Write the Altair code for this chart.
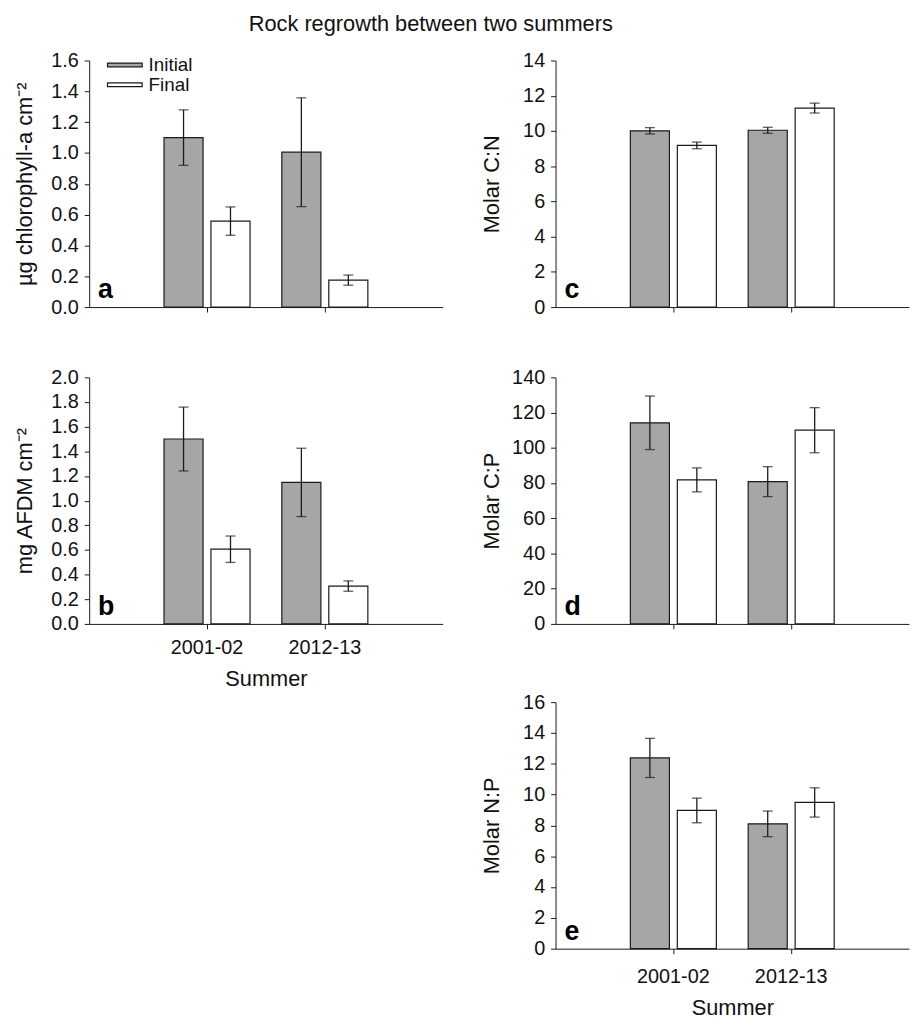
import altair as alt
import pandas as pd

summers = ["2001-02", "2012-13"]
treatments = ["Initial", "Final"]
panel_letters = ["a", "b", "c", "d", "e"]

# panel a: chlorophyll-a
chl_initial = [1.10, 1.005]
chl_initial_se = [0.18, 0.353]
chl_final = [0.558, 0.175]
chl_final_se = [0.092, 0.033]
# panel b: AFDM
afdm_initial = [1.50, 1.148]
afdm_initial_se = [0.259, 0.277]
afdm_final = [0.606, 0.307]
afdm_final_se = [0.107, 0.042]
# panel c: C:N
cn_initial = [10.01, 10.04]
cn_initial_se = [0.18, 0.17]
cn_final = [9.18, 11.30]
cn_final_se = [0.19, 0.28]
# panel d: C:P
cp_initial = [114.2, 80.8]
cp_initial_se = [15.2, 8.5]
cp_final = [81.8, 110.0]
cp_final_se = [6.8, 12.8]
# panel e: N:P
np_initial = [12.38, 8.10]
np_initial_se = [1.27, 0.83]
np_final = [8.97, 9.49]
np_final_se = [0.80, 0.95]

FONT = "Liberation Sans"
W, H = 357, 249
INK = "#1a1a1a"


def make_df(init, init_se, fin, fin_se):
    rows = []
    for i, s in enumerate(summers):
        rows.append({"summer": s, "treatment": "Initial", "mean": init[i], "se": init_se[i]})
        rows.append({"summer": s, "treatment": "Final", "mean": fin[i], "se": fin_se[i]})
    return pd.DataFrame(rows)


def panel(df, ytitle, ymax, ystep, fmt, letter, show_x, legend=False,
          label_pad=8.5, xtitle_y=62):
    ticks = [round(i * ystep, 6) for i in range(int(round(ymax / ystep)) + 1)]
    xaxis = alt.Axis(
        labels=show_x, title="Summer" if show_x else None,
        labelPadding=label_pad, labelAngle=0,
        titleY=xtitle_y, titleBaseline="alphabetic",
        domainColor=INK, tickColor=INK, tickSize=5, grid=False,
    )
    x = alt.X("summer:N", sort=summers, axis=xaxis,
              scale=alt.Scale(paddingInner=0.27, paddingOuter=0.635))
    xo = alt.XOffset("treatment:N", sort=treatments,
                     scale=alt.Scale(paddingInner=0.168, paddingOuter=0))
    yaxis = alt.Axis(values=ticks, format=fmt, title=ytitle,
                     titleX=-58, titleY=H / 2, titleAngle=270,
                     titleBaseline="alphabetic", titleAlign="center",
                     labelPadding=6, tickSize=5, domainColor=INK,
                     tickColor=INK, grid=False)
    yscale = alt.Scale(domain=[0, ymax], nice=False, zero=True)
    if legend:
        leg = alt.Legend(title=None, orient="none", legendX=26.5, legendY=-5,
                         symbolType="M-2.5,-0.27L2.5,-0.27L2.5,0.27L-2.5,0.27Z",
                         symbolSize=196, symbolStrokeColor=INK,
                         symbolStrokeWidth=1.2, labelFontSize=19,
                         labelFont=FONT, labelColor="#111", labelOffset=14.5,
                         rowPadding=0, padding=0)
    else:
        leg = None
    fill = alt.Fill("treatment:N", sort=treatments,
                    scale=alt.Scale(domain=treatments, range=["#a6a6a6", "#ffffff"]),
                    legend=leg)
    base = alt.Chart(df).transform_calculate(
        lo="datum.mean - datum.se", hi="datum.mean + datum.se")
    bars = base.mark_bar(stroke=INK, strokeWidth=1.2).encode(
        x=x, xOffset=xo, y=alt.Y("mean:Q", scale=yscale, axis=yaxis), fill=fill)
    err = base.mark_rule(color=INK, strokeWidth=1.3).encode(
        x=x, xOffset=xo, y=alt.Y("lo:Q", scale=yscale, axis=yaxis), y2="hi:Q")
    cap_hi = base.mark_tick(color=INK, size=10, thickness=1.3).encode(
        x=x, xOffset=xo, y=alt.Y("hi:Q", scale=yscale, axis=yaxis))
    cap_lo = base.mark_tick(color=INK, size=10, thickness=1.3).encode(
        x=x, xOffset=xo, y=alt.Y("lo:Q", scale=yscale, axis=yaxis))
    lab = alt.Chart(pd.DataFrame({"letter": [letter]})).mark_text(
        font=FONT, fontSize=27, fontWeight="bold", align="left",
        baseline="alphabetic", color="#000").encode(
        text="letter:N", x=alt.value(9), y=alt.value(H - 9))
    return alt.layer(bars, err, cap_hi, cap_lo, lab).properties(width=W, height=H)


pa = panel(make_df(chl_initial, chl_initial_se, chl_final, chl_final_se),
           "µg chlorophyll-a cm⁻²", 1.6, 0.2, ".1f", panel_letters[0], False, legend=True)
pb = panel(make_df(afdm_initial, afdm_initial_se, afdm_final, afdm_final_se),
           "mg AFDM cm⁻²", 2.0, 0.2, ".1f", panel_letters[1], True,
           label_pad=8.5, xtitle_y=62)
pc = panel(make_df(cn_initial, cn_initial_se, cn_final, cn_final_se),
           "Molar C:N", 14, 2, "d", panel_letters[2], False)
pd_ = panel(make_df(cp_initial, cp_initial_se, cp_final, cp_final_se),
            "Molar C:P", 140, 20, "d", panel_letters[3], False)
pe = panel(make_df(np_initial, np_initial_se, np_final, np_final_se),
           "Molar N:P", 16, 2, "d", panel_letters[4], True,
           label_pad=13, xtitle_y=66)

# empty placeholder cell (bottom-left)
blank = alt.Chart(pd.DataFrame({"v": [0]})).mark_point(opacity=0).encode(
    x=alt.X("v:Q", axis=None), y=alt.Y("v:Q", axis=None)
).properties(width=W, height=H)

COLSP = 114
row1 = alt.hconcat(pa, pc, spacing=COLSP, bounds="flush").resolve_legend(fill="independent")
row2 = alt.hconcat(pb, pd_, spacing=COLSP, bounds="flush").resolve_legend(fill="independent")
row3 = alt.hconcat(blank, pe, spacing=COLSP, bounds="flush").resolve_legend(fill="independent")
upper = alt.vconcat(row1, row2, spacing=51).resolve_legend(fill="independent")

chart = alt.vconcat(upper, row3, spacing=3).resolve_legend(fill="independent").properties(
    title=alt.TitleParams("Rock regrowth between two summers", fontSize=22,
                          fontWeight="normal", font=FONT, color="#111",
                          anchor="middle", dx=-31, offset=15),
    padding={"left": 5, "top": 0, "right": 2, "bottom": 0},
    background="white",
).configure_view(stroke=None).configure_axis(
    labelFont=FONT, titleFont=FONT, labelFontSize=20, titleFontSize=22,
    titleFontWeight="normal", labelColor="#111", titleColor="#111",
)

chart.save("out.html", embed_options={"renderer": "svg", "actions": False})
